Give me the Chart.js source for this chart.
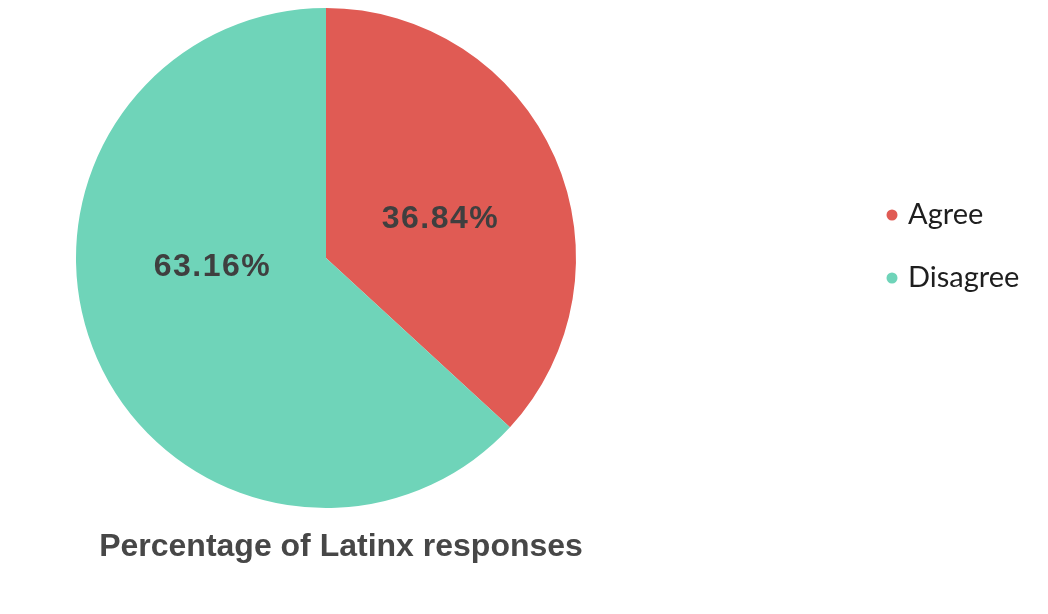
<!DOCTYPE html>
<html>
<head>
<meta charset="utf-8">
<script src="https://cdn.jsdelivr.net/npm/chart.js@4/dist/chart.umd.min.js"></script>
<style>
    html, body { margin: 0; padding: 0; background: #ffffff; }
    #wrap { position: relative; width: 1048px; height: 614px; }
</style>
</head>
<body>
<div id="wrap"><canvas id="latinxPie"></canvas></div>
<script>
var categories = ['Agree', 'Disagree'];
var percentValues = [36.84, 63.16];
var sliceColors = ['#e05b54', '#6fd4b9'];
var chartTitle = 'Percentage of Latinx responses';

(function () {
    var canvas = document.getElementById('latinxPie');

    // nudges so the slice labels sit where the original put them
    var labelShift = [[0, 11], [1, -41]];

    var annotate = {
        id: 'annotate',
        afterDraw: function (chart) {
            var ctx = chart.ctx;
            var meta = chart.getDatasetMeta(0);
            ctx.save();

            ctx.font = 'bold 32px "Liberation Sans", Arial, sans-serif';
            ctx.letterSpacing = '1.5px';
            ctx.fillStyle = '#3f3f3f';
            ctx.textAlign = 'center';
            ctx.textBaseline = 'middle';
            meta.data.forEach(function (arc, i) {
                var pos = arc.tooltipPosition();
                var label = percentValues[i].toFixed(2) + '%';
                ctx.fillText(label, pos.x + labelShift[i][0], pos.y + labelShift[i][1]);
            });

            ctx.letterSpacing = '0px';
            ctx.fillStyle = '#474747';
            ctx.textBaseline = 'alphabetic';
            ctx.fillText(chartTitle, 341, 556);

            ctx.font = '29px Lato, "Open Sans", sans-serif';
            ctx.textAlign = 'left';
            categories.forEach(function (name, i) {
                var y = 215 + i * 63;
                ctx.beginPath();
                ctx.fillStyle = sliceColors[i];
                ctx.arc(892, y, 5.5, 0, Math.PI * 2);
                ctx.fill();
                ctx.fillStyle = '#1e1e1e';
                ctx.fillText(name, 908, y + 9);
            });

            ctx.restore();
        }
    };

    new Chart(canvas, {
        type: 'pie',
        data: {
            labels: categories,
            datasets: [
                {
                    data: percentValues,
                    backgroundColor: sliceColors,
                    borderWidth: 0,
                    hoverOffset: 0
                }
            ]
        },
        options: {
            responsive: true,
            maintainAspectRatio: false,
            animation: false,
            layout: {
                padding: { left: 76, top: 8, right: 472, bottom: 106 }
            },
            plugins: {
                legend: { display: false },
                title: { display: false },
                tooltip: { enabled: false }
            }
        },
        plugins: [annotate]
    });
})();
</script>
</body>
</html>
